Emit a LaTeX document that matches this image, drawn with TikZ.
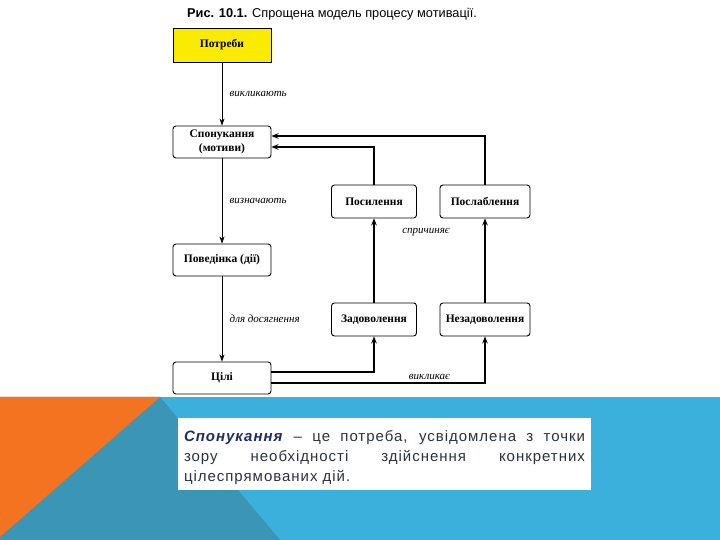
\documentclass[tikz,border=0pt]{standalone}
\usepackage{fontspec}
\setmainfont{Liberation Serif}
\newfontfamily\slidefont{Liberation Sans}
\newfontfamily\defnfont[LetterSpace=6.5]{Liberation Sans}
\usetikzlibrary{arrows, arrows.meta}
\definecolor{needyellow}{HTML}{FAEB00}
\definecolor{bandblue}{HTML}{3BB0DC}
\definecolor{banddark}{HTML}{3A96B4}
\definecolor{bandorange}{HTML}{F47321}
\definecolor{termnavy}{HTML}{1F2C5E}
\definecolor{slidegrey}{HTML}{2B3140}
\tikzstyle{stagenode} = [rectangle, rounded corners=3pt,
minimum width=98pt,
minimum height=32pt,
align=center,
font=\bfseries\fontsize{11.5}{13.5}\selectfont,
draw=black, line width=0.9pt]
\tikzstyle{neednode} = [rectangle,
fill=needyellow,
minimum width=98pt,
minimum height=34pt,
align=center,
font=\bfseries\fontsize{11.5}{13.5}\selectfont,
draw=black, line width=0.9pt]
\tikzstyle{effectnode} = [stagenode, minimum width=85pt, minimum height=33pt]
\tikzstyle{arrowlabel} = [font=\itshape\fontsize{11}{12}\selectfont]
\tikzstyle{defnode} = [rectangle, fill=white,
text width=401pt,
align=justify,
inner xsep=6pt, inner ysep=5pt,
text=slidegrey,
font=\defnfont\fontsize{15}{20}\selectfont]
\tikzstyle{thinarrow} = [line width=0.7pt,->,>={Stealth[length=7pt,width=5pt]}]
\tikzstyle{arrow} = [line width=1.4pt,->,>={Stealth[length=7pt,width=5.5pt]}]

\begin{document}
\begin{tikzpicture}[x=1pt, y=1pt, node distance=118pt]
\useasboundingbox (0,0) rectangle (720,540);
% slide background
\fill[white] (0,0) rectangle (720,540);
\fill[bandblue] (0,0) rectangle (720,143);
\fill[banddark] (0,0) -- (0,143) -- (160,143) -- (280,0) -- cycle;
\fill[bandorange] (0,3) -- (0,143) -- (160,143) -- cycle;

\node (title) [font=\slidefont\fontsize{12.8}{14}\selectfont] at (332,526) {\textbf{Рис. 10.1.} Спрощена модель процесу мотивації.};

\node (need) [neednode] at (222,495) {Потреби};
\node (motive) [stagenode, below of=need, yshift=21pt] {Спонукання\\ (мотиви)};
\node (behav) [stagenode, below of=motive] {Поведінка (дії)};
\node (goal) [stagenode, below of=behav] {Цілі};

\node (gain) [effectnode, right of=behav, xshift=34pt, yshift=58.5pt] {Посилення};
\node (weak) [effectnode, right of=gain, xshift=-7pt, minimum width=90pt] {Послаблення};
\node (sat) [effectnode, below of=gain] {Задоволення};
\node (unsat) [effectnode, below of=weak, minimum width=90pt] {Незадоволення};

\node (cause) [arrowlabel, right of=gain, xshift=-66pt, yshift=-31pt] {спричиняє};

\draw [thinarrow] (need) -- node[arrowlabel, right, xshift=4pt] {викликають} (motive);
\draw [thinarrow] (motive) -- node[arrowlabel, right, xshift=4pt] {визначають} (behav);
\draw [thinarrow] (behav) -- node[arrowlabel, right, xshift=4pt] {для досягнення} (goal);

\draw [arrow] (sat) -- (gain);
\draw [arrow] (unsat) -- (weak);

\draw [arrow] (gain.north) |- ([yshift=-5pt]motive.east);
\draw [arrow] (weak.north) |- ([yshift=6pt]motive.east);

\draw [arrow] ([yshift=6pt]goal.east) -| (sat.south);
\draw [arrow] ([yshift=-5pt]goal.east) -| node[arrowlabel, above, pos=0.37, yshift=-1pt] {викликає} (unsat.south);

\node (defn) [defnode] at (384.5,86) {\rule{0pt}{18pt}\textcolor{termnavy}{\textbf{\textit{Спонукання}}} – це потреба, усвідомлена з точки\linebreak зору необхідності здійснення конкретних\linebreak цілеспрямованих дій.};

\end{tikzpicture}
\end{document}
